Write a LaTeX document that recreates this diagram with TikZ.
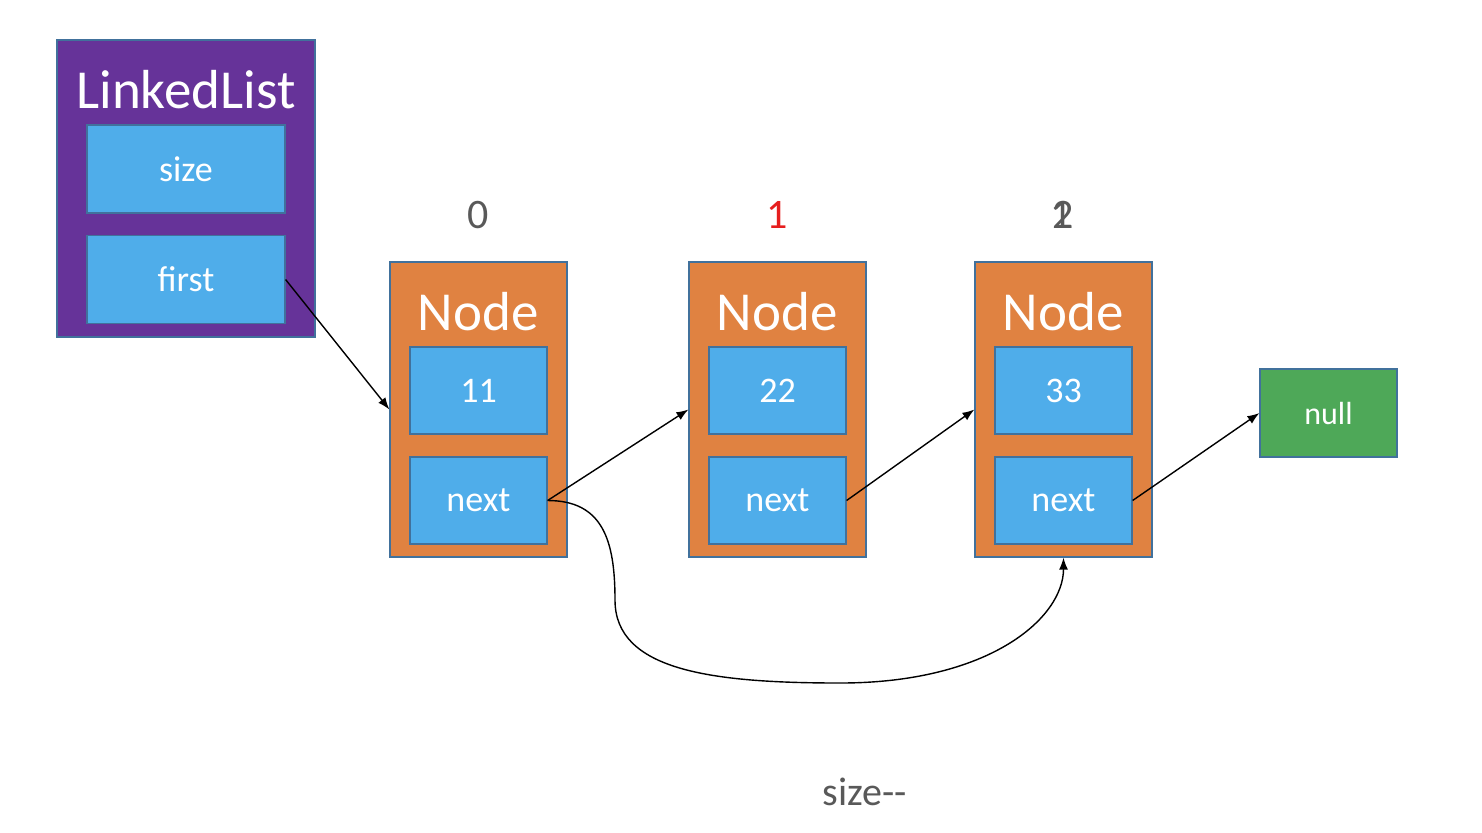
\documentclass[tikz,border=0pt]{standalone}
\usepackage{fontspec}
\setmainfont{Carlito}
\usetikzlibrary{arrows.meta, positioning}
\definecolor{listpurple}{RGB}{102,51,153}
\definecolor{fieldblue}{RGB}{79,173,234}
\definecolor{nodeorange}{RGB}{224,130,65}
\definecolor{nullgreen}{RGB}{78,168,88}
\definecolor{edgeblue}{RGB}{65,113,156}
\definecolor{idxgray}{RGB}{89,89,89}
\definecolor{idxred}{RGB}{230,30,30}

\begin{document}
\begin{tikzpicture}[x=0.5pt, y=-0.5pt,
    box/.style={draw=edgeblue, line width=0.6pt, inner sep=0pt, text=white},
    field/.style={box, fill=fieldblue, minimum width=68.5pt, minimum height=43.5pt, font=\fontsize{18}{20}\selectfont},
    holder/.style={box, fill=nodeorange, minimum width=88.5pt, minimum height=147.5pt},
    title/.style={text=white, font=\fontsize{27.5}{30}\selectfont},
    idx/.style={text=idxgray, font=\fontsize{21}{24}\selectfont},
    link/.style={draw=black, line width=0.7pt, -{Latex[length=6pt,width=4.5pt]}}]
    \useasboundingbox (0,0) rectangle (1482,832);

    % linked list object
    \node[box, fill=listpurple, minimum width=129pt, minimum height=148.5pt] (list) at (186,188.5) {};
    \node[title] (listname) at (186,90) {LinkedList};
    \node[field, minimum width=99pt, minimum height=44pt] (size) at (186,169) {size};
    \node[field, minimum width=99pt, minimum height=44pt] (first) at (186,279.5) {first};

    % nodes
    \node[holder] (n0) at (478.5,409.5) {};
    \node[title] (n0name) at (478,312) {Node};
    \node[field] (val0) at (478.5,390.5) {11};
    \node[field] (next0) at (478.5,500.5) {next};

    \node[holder] (n1) at (777.5,409.5) {};
    \node[title] (n1name) at (777,312) {Node};
    \node[field] (val1) at (777.5,390.5) {22};
    \node[field] (next1) at (777.5,500.5) {next};

    \node[holder] (n2) at (1063.5,409.5) {};
    \node[title] (n2name) at (1063,312) {Node};
    \node[field] (val2) at (1063.5,390.5) {33};
    \node[field] (next2) at (1063.5,500.5) {next};

    \node[box, fill=nullgreen, minimum width=68.5pt, minimum height=44pt, font=\fontsize{16}{18}\selectfont] (null) at (1328.5,413) {null};

    % indices
    \node[idx] (i0) at (478,215) {0};
    \node[idx, text=idxred] (i1) at (777,215) {1};
    \node[idx] (i2) at (1063,215) {2};
    \node[idx] (i2old) at (1061,215) {1};

    \node[text=idxgray, font=\fontsize{20}{22}\selectfont] (note) at (865,792) {size{-}{-}};

    % links
    \draw[link] (first.east) -- (n0.west);
    \draw[link] (next0.east) -- (n1.west);
    \draw[link] (next1.east) -- (n2.west);
    \draw[link] (next2.east) -- (null.west);
    \draw[link] (next0.east) .. controls +(55,0) and +(0,-60) .. (615,600)
        .. controls +(0,70) and +(-130,0) .. (840,683)
        .. controls +(150,0) and +(0,60) .. (n2.south);
\end{tikzpicture}
\end{document}
